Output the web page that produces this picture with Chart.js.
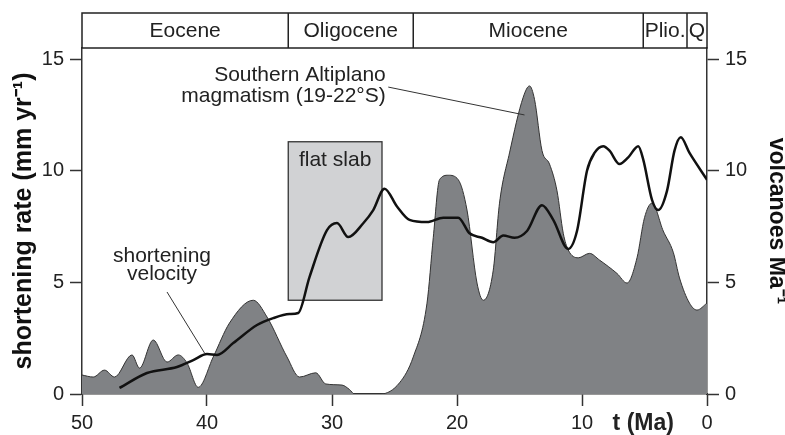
<!DOCTYPE html>
<html>
<head>
<meta charset="utf-8">
<script src="https://cdn.jsdelivr.net/npm/chart.js@4.4.1/dist/chart.umd.min.js"></script>
<style>
  html, body { margin: 0; padding: 0; background: #fff; }
</style>
</head>
<body>
<canvas id="graph" width="785" height="435"></canvas>
<script>
// magmatism, volcanoes per Ma (right axis)
const magAge = [50, 49.1, 48.2, 47.4, 46.0, 45.4, 44.3, 43.2, 42.3, 41.6, 40.7, 39.5, 38.2, 36.3, 35.2, 33.6, 32.6, 31.3, 30.5, 29.2, 28.6, 28.2,
    26.1, 24.6, 23.5, 22.4, 21.9, 21.4, 20.7, 19.9, 19.2, 18.4, 17.9, 17.1, 16.6, 15.8, 14.7, 14.2, 13.8, 13.2, 12.6, 12.0, 11.5, 11.1,
    10.3, 9.4, 8.6, 7.2, 6.4, 5.6, 5.0, 4.4, 3.5, 2.7, 2.2, 1.4, 0.8, 0];
const magRate = [0.85, 0.76, 1.07, 0.76, 1.75, 1.16, 2.42, 1.43, 1.75, 1.39, 0.3, 1.66, 3.18, 4.2, 3.45, 1.66, 0.76, 0.95, 0.45, 0.4, 0.2, 0,
    0, 0.5, 1.66, 4.07, 7.0, 9.6, 9.8, 9.6, 8.24, 4.97, 4.2, 5.55, 8.55, 10.8, 13.3, 13.8, 13.2, 10.9, 10.3, 9.1, 7.2, 6.45,
    6.1, 6.3, 6.0, 5.4, 4.97, 6.1, 7.9, 8.55, 7.3, 6.35, 5.2, 4.07, 3.76, 4.07];

// shortening velocity, mm/yr (left axis)
const velAge = [47.0, 44.8, 42.4, 41.1, 40.0, 39.2, 37.9, 36.0, 34.7, 33.4, 32.7, 31.8, 30.4, 29.6, 28.7, 27.5, 26.7, 25.8, 24.8, 23.8,
    22.4, 21.1, 19.9, 19.0, 18.0, 17.1, 16.3, 15.4, 14.4, 13.2, 12.3, 11.1, 10.4, 9.6, 9.0, 8.3, 7.8, 7.0, 6.3, 5.5, 5.1, 4.4,
    3.9, 3.2, 2.6, 2.1, 1.4, 0];
const velRate = [0.27, 0.94, 1.21, 1.52, 1.79, 1.75, 2.28, 3.09, 3.4, 3.58, 3.63, 5.24, 7.34, 7.66, 7.03, 7.65, 8.24, 9.2, 8.4, 7.8,
    7.7, 7.9, 7.9, 7.2, 7.0, 6.8, 7.1, 7.0, 7.3, 8.46, 7.8, 6.5, 7.3, 10.0, 10.8, 11.1, 10.9, 10.3, 10.6, 11.1, 10.5, 8.7,
    8.24, 9.1, 10.9, 11.5, 10.8, 9.6];

const xTicks = [50, 40, 30, 20, 10, 0];
const yTicks = [0, 5, 10, 15];

const epochNames = ['Eocene', 'Oligocene', 'Miocene', 'Plio.', 'Q'];
const epochStart = [50, 33.5, 23.5, 5.1, 1.6];
const epochEnd = [33.5, 23.5, 5.1, 1.6, 0];

// flat slab box: age from, age to, rate from, rate to
const flatSlab = [33.5, 26.0, 4.2, 11.3];

const FONT = "'Liberation Sans', Arial, sans-serif";
const INK = '#222';

const toPoints = (xs, ys) => xs.map((x, i) => ({ x: x, y: ys[i] }));

function fixTicks(list) {
    return scale => { scale.ticks = list.map(v => ({ value: v })); };
}

const extras = {
    id: 'extras',
    beforeDatasetsDraw(chart) {
        const { ctx, scales: { x, y } } = chart;
        const x0 = x.getPixelForValue(flatSlab[0]), x1 = x.getPixelForValue(flatSlab[1]);
        const y0 = y.getPixelForValue(flatSlab[2]), y1 = y.getPixelForValue(flatSlab[3]);
        ctx.save();
        ctx.fillStyle = '#d1d2d4';
        ctx.strokeStyle = '#333';
        ctx.lineWidth = 1.3;
        ctx.fillRect(x0, y1, x1 - x0, y0 - y1);
        ctx.strokeRect(x0, y1, x1 - x0, y0 - y1);
        ctx.fillStyle = INK;
        ctx.font = '21px ' + FONT;
        ctx.textAlign = 'center';
        ctx.textBaseline = 'alphabetic';
        ctx.fillText('flat slab', (x0 + x1) / 2, y.getPixelForValue(10.2));
        ctx.restore();
    },
    afterDraw(chart) {
        const { ctx, chartArea: a, scales: { x, y } } = chart;
        ctx.save();
        // epoch band
        const top = 13;
        ctx.strokeStyle = '#222';
        ctx.lineWidth = 1.5;
        ctx.strokeRect(a.left, top, a.right - a.left, a.top - top);
        ctx.font = '21px ' + FONT;
        ctx.fillStyle = INK;
        ctx.textAlign = 'center';
        ctx.textBaseline = 'middle';
        epochNames.forEach((name, i) => {
            const p0 = x.getPixelForValue(epochStart[i]);
            const p1 = x.getPixelForValue(epochEnd[i]);
            if (i > 0) {
                ctx.beginPath();
                ctx.moveTo(p0, top);
                ctx.lineTo(p0, a.top);
                ctx.stroke();
            }
            ctx.fillText(name, (p0 + p1) / 2, (top + a.top) / 2 + 1);
        });

        // leader lines
        ctx.strokeStyle = '#333';
        ctx.lineWidth = 1;
        ctx.beginPath();
        ctx.moveTo(x.getPixelForValue(25.5), y.getPixelForValue(13.75));
        ctx.lineTo(x.getPixelForValue(14.6), y.getPixelForValue(12.5));
        ctx.moveTo(x.getPixelForValue(43.2), y.getPixelForValue(4.57));
        ctx.lineTo(x.getPixelForValue(40.2), y.getPixelForValue(1.84));
        ctx.stroke();

        // annotations
        ctx.textBaseline = 'alphabetic';
        ctx.textAlign = 'right';
        ctx.fillText('Southern Altiplano', x.getPixelForValue(25.7), y.getPixelForValue(14.0));
        ctx.fillText('magmatism (19-22°S)', x.getPixelForValue(25.7), y.getPixelForValue(13.1));
        ctx.textAlign = 'center';
        ctx.fillText('shortening', x.getPixelForValue(43.6), y.getPixelForValue(5.9));
        ctx.fillText('velocity', x.getPixelForValue(43.6), y.getPixelForValue(5.1));

        // x axis title
        ctx.font = 'bold 23px ' + FONT;
        ctx.textBaseline = 'middle';
        ctx.fillText('t (Ma)', x.getPixelForValue(5.1), a.bottom + 30);
        ctx.restore();
    }
};

const axisCommon = {
    grid: { drawOnChartArea: false, tickLength: 12, tickColor: '#333', tickWidth: 1.5 },
    border: { display: true, color: '#333', width: 1.5 },
};

const config = {
    type: 'line',
    data: {
        datasets: [
            {
                label: 'shortening velocity',
                data: toPoints(velAge, velRate),
                yAxisID: 'y',
                borderColor: '#111',
                borderWidth: 2.5,
                pointRadius: 0,
                fill: false,
                cubicInterpolationMode: 'monotone',
                order: 1
            },
            {
                label: 'Southern Altiplano magmatism',
                data: toPoints(magAge, magRate),
                yAxisID: 'y2',
                borderColor: '#333',
                borderWidth: 1,
                backgroundColor: '#808285',
                pointRadius: 0,
                fill: 'origin',
                cubicInterpolationMode: 'monotone',
                order: 2
            }
        ]
    },
    options: {
        responsive: false,
        animation: false,
        devicePixelRatio: 1,
        layout: { padding: { top: 48, left: 0, right: 0, bottom: 0 } },
        plugins: {
            legend: { display: false },
            tooltip: { enabled: false }
        },
        scales: {
            x: {
                type: 'linear',
                reverse: true,
                min: 0,
                max: 50,
                afterBuildTicks: fixTicks(xTicks),
                afterFit: s => { s.height = 41; },
                ...axisCommon,
                ticks: { color: INK, font: { family: FONT, size: 20 }, padding: 5, maxRotation: 0 }
            },
            y: {
                position: 'left',
                min: 0,
                max: 15.5,
                afterBuildTicks: fixTicks(yTicks),
                afterFit: s => { s.width = 82; },
                ...axisCommon,
                ticks: { color: INK, font: { family: FONT, size: 20 }, padding: 6 },
                title: {
                    display: true,
                    text: 'shortening rate (mm yr⁻¹)',
                    color: '#111',
                    font: { family: FONT, size: 25, weight: 'bold', lineHeight: 1 },
                    padding: { top: 12, bottom: 0 }
                }
            },
            y2: {
                position: 'right',
                min: 0,
                max: 15.5,
                afterBuildTicks: fixTicks(yTicks),
                afterFit: s => { s.width = 78; },
                ...axisCommon,
                ticks: { color: INK, font: { family: FONT, size: 20 }, padding: 6 },
                title: {
                    display: true,
                    text: 'volcanoes Ma⁻¹',
                    color: '#111',
                    font: { family: FONT, size: 23, weight: 'bold', lineHeight: 1 },
                    padding: { top: -3, bottom: 0 }
                }
            }
        }
    },
    plugins: [extras]
};

const myChart = new Chart(document.getElementById('graph'), config);
</script>
</body>
</html>
